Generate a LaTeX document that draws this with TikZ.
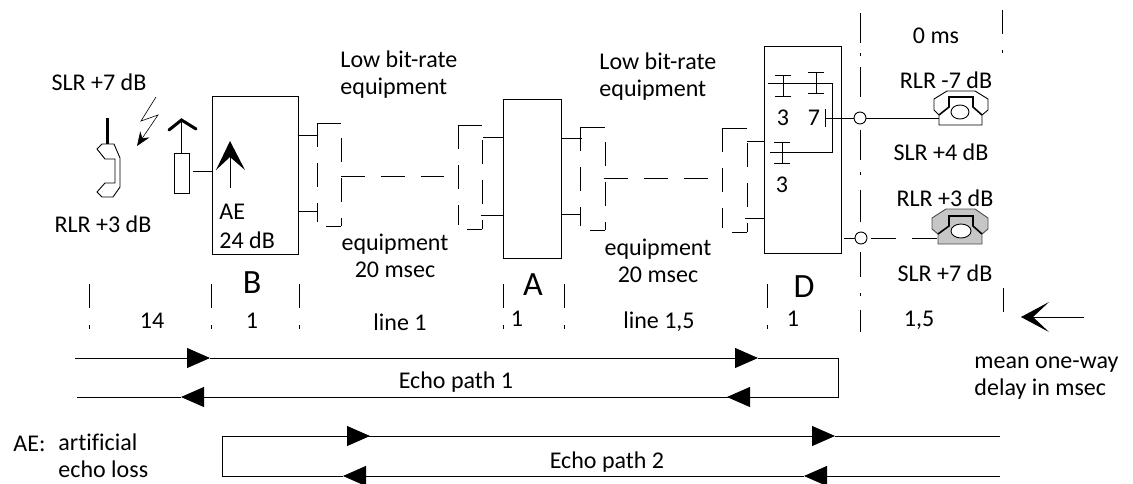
\documentclass[tikz,border=0pt]{standalone}
\usepackage{fontspec}
\setmainfont[Ligatures=NoCommon]{Carlito}
\usetikzlibrary{arrows.meta}
\tikzset{
  lab/.style={inner sep=0pt,font=\fontsize{24}{27}\selectfont},
  bigLab/.style={inner sep=0pt,font=\fontsize{34}{36}\selectfont},
  unit/.style={draw,minimum width=#1,inner sep=0pt},
  trunk/.style={dash pattern=on 24pt off 16pt},
  junction/.style={draw,circle,fill=white,minimum size=12pt,inner sep=0pt},
  echoTip/.style={-{Triangle[length=23pt,width=20pt]}},
  thickStroke/.style={line width=3pt,line cap=round,line join=miter}
}
\begin{document}
\begin{tikzpicture}[x=1pt,y=-1pt,line width=0.9pt]
\useasboundingbox (0,0) rectangle (1133,483);
% units and their letters
\node[unit=86pt,minimum height=158pt] (unitB) at (255,175) {};
\node[unit=58pt,minimum height=159pt] (unitA) at (532,178.5) {};
\node[unit=77pt,minimum height=207pt] (unitD) at (802.5,150) {};
\node[bigLab] (nameB) at (252,283) {B};
\node[bigLab] (nameA) at (533,285) {A};
\node[bigLab] (nameD) at (804,287) {D};
% left bracket pairs, trunk in between
\foreach \xa/\xb/\ya/\yb in {317/341/123/226,458/482/125/229,580/605/127/230,722/747/128/232}{
  \draw[trunk] (\xa,\ya) -- (\xa,\yb-4);
  \draw (\xa,\ya) -- (\xb,\ya);
  \draw[trunk] (\xb,\ya+15) -- (\xb,\yb);
  \draw (\xb,\yb) -- (\xb-15,\yb);
}
\draw[trunk] (341,176) -- (444,176);
\draw[trunk] (604,178) -- (708,178);
\foreach \y in {135,211}{\draw (unitB.east |- 0,\y) -- ++(19,0);}
\foreach \y/\x in {137/483,215/481}{\draw (unitA.west |- 0,\y) -- (\x,\y);}
\foreach \y/\x in {138/582,214/580}{\draw (unitA.east |- 0,\y) -- (\x,\y);}
\foreach \y/\x in {141/747,218/745}{\draw (unitD.west |- 0,\y) -- (\x,\y);}
% handset, radio link, antenna
\draw (97,149) -- (102,144) -- (114,144) -- (120,158) -- (120,187) -- (113,197) -- (102,197)
  -- (97,192) -- (105,183) -- (115,183) -- (115,159) -- (105,159) -- cycle;
\draw[thickStroke,line cap=butt] (107,118) -- (107,144);
\draw[-{Stealth[length=14pt,width=11pt]},line width=0.6pt] (156,97) -- (141,121) -- (158,115) -- (137,146);
\node[draw,minimum width=15pt,minimum height=40pt,inner sep=0pt] (aerial) at (181.5,173) {};
\coordinate (aerialTop) at (181.5,120);
\draw (aerial.north) -- (aerialTop);
\draw[thickStroke] (169,130) -- (aerialTop) -- (196,129);
\draw (aerial.east |- 0,171) ++(4,0) -- (unitB.west |- 0,171);
% artificial echo loss arrow
\draw (230,188) -- (230,155);
\fill (230,141) -- (245,170) -- (230,157) -- (216,170) -- cycle;
\node[lab,anchor=west] (labAE) at (219,212) {AE};
\node[lab,anchor=west] (labAEdb) at (219,240) {24 dB};
% inside D
\draw (768,83) -- (832,83) -- (832,152) -- (770,152);
\foreach \x/\y in {783/75,816/72,782/142}{
  \draw (\x,\y) -- (\x,\y+21);
  \draw (\x-8,\y) -- (\x+8,\y);
  \draw (\x-8,\y+21) -- (\x+8,\y+21);
}
\node[lab] (padA) at (783,118) {3};
\node[lab] (padB) at (814,118) {7};
\node[lab] (padC) at (782,185) {3};
\draw (825,109) -- (825,127);
% interface line, dash and dot
\foreach \ya/\yb in {13/43,53/56,67/97,130/160,172/175,190/222,252/277,293/296,310/332}{
  \draw (860,\ya) -- (860,\yb);
}
\node[junction] (jointUp) at (860,118) {};
\node[junction] (jointDown) at (861,238) {};
\coordinate (padTap) at (825,118);
\coordinate (phoneUp) at (939,118);
\coordinate (phoneDown) at (938,238);
\draw (padTap) -- (jointUp) -- (phoneUp);
\draw (844,238) -- (jointDown);
\draw[dash pattern=on 25pt off 16pt] (jointDown.east) ++(4,0) -- (phoneDown);
% the two telephones
\draw (939,115) -- (934,110) -- (934,99) -- (947,91) -- (975,91) -- (988,99) -- (988,110) -- (982,115)
  -- (982,125) -- (939,125) -- cycle;
\draw[line width=1.6pt] (939,115) -- (949,107) -- (949,97) -- (973,97) -- (973,107) -- (982,115);
\draw (960,112) ellipse (9 and 7);
\fill[gray!45,draw=black!70] (938,234) -- (932,229) -- (932,218) -- (946,209) -- (975,209) -- (988,218)
  -- (988,229) -- (982,234) -- (982,244) -- (938,244) -- cycle;
\draw[line width=1.6pt] (938,234) -- (949,226) -- (949,216) -- (973,216) -- (973,226) -- (982,234);
\draw[fill=white] (961,231) ellipse (10 and 7);
% levels
\node[lab] (slrHand) at (99,82) {SLR +7 dB};
\node[lab] (rlrHand) at (103,224) {RLR +3 dB};
\node[lab,anchor=west,align=left] (lowLeft) at (340,75) {Low bit-rate\\equipment};
\node[lab,anchor=west,align=left] (lowRight) at (599,77) {Low bit-rate\\equipment};
\node[lab,align=center] (equipLeft) at (395,256) {equipment\\20 msec};
\node[lab,align=center] (equipRight) at (658,261) {equipment\\20 msec};
\node[lab] (zeroMs) at (936,36) {0 ms};
\node[lab] (rlrUp) at (946,80) {RLR -7 dB};
\node[lab] (slrUp) at (941,152) {SLR +4 dB};
\node[lab] (rlrDown) at (945,198) {RLR +3 dB};
\node[lab] (slrDown) at (945,273) {SLR +7 dB};
% delay scale
\foreach \x in {89,211,299,503,564,767}{
  \draw (\x,284) -- (\x,308);
  \draw (\x,325) -- (\x,329);
}
\draw (1002,10) -- (1002,34);
\draw (1002,50) -- (1002,53);
\draw (1003,288) -- (1003,312);
\node[lab] (delayA) at (152,321) {14};
\node[lab] (delayB) at (252,321) {1};
\node[lab] (delayC) at (400,322) {line 1};
\node[lab] (delayD) at (517,319) {1};
\node[lab] (delayE) at (659,322) {line 1,5};
\node[lab] (delayF) at (793,319) {1};
\node[lab] (delayG) at (919,320) {1,5};
\coordinate (meanFrom) at (1084,317);
\coordinate (meanTo) at (1021,317);
\draw[-{Stealth[length=28pt,width=30pt,inset=16pt]}] (meanFrom) -- (meanTo);
\node[lab,anchor=west,align=left] (meanLab) at (974,378) {mean one-way\\delay in msec};
% echo paths
\coordinate (oneIn) at (75,358);
\coordinate (oneTipA) at (210,358);
\coordinate (oneTipB) at (758,358);
\coordinate (oneTurnA) at (838,358);
\coordinate (oneTurnB) at (838,397);
\coordinate (oneTipC) at (727,397);
\coordinate (oneTipD) at (181,397);
\coordinate (oneOut) at (77,397);
\draw[echoTip] (oneIn) -- (oneTipA);
\draw[echoTip] (oneTipA) -- (oneTipB);
\draw (oneTipB) -- (oneTurnA) -- (oneTurnB) -- (oneTipC);
\draw[echoTip] (oneTurnB) -- (oneTipC);
\draw[echoTip] (oneTipC) -- (oneTipD);
\draw (oneTipD) -- (oneOut);
\node[lab] (pathOne) at (456,382) {Echo path 1};
\coordinate (twoIn) at (1000,476);
\coordinate (twoTipA) at (804,476);
\coordinate (twoTipB) at (343,476);
\coordinate (twoTurnA) at (222,476);
\coordinate (twoTurnB) at (222,436);
\coordinate (twoTipC) at (370,436);
\coordinate (twoTipD) at (835,436);
\coordinate (twoOut) at (1000,436);
\draw[echoTip] (twoIn) -- (twoTipA);
\draw[echoTip] (twoTipA) -- (twoTipB);
\draw (twoTipB) -- (twoTurnA) -- (twoTurnB) -- (twoTipC);
\draw[echoTip] (twoTurnB) -- (twoTipC);
\draw[echoTip] (twoTipC) -- (twoTipD);
\draw (twoTipD) -- (twoOut);
\node[lab] (pathTwo) at (607,462) {Echo path 2};
\node[lab,anchor=west] (noteAE) at (13,444) {AE:};
\node[lab,anchor=west,align=left] (noteLoss) at (58,456) {artificial\\echo loss};
\end{tikzpicture}
\end{document}
